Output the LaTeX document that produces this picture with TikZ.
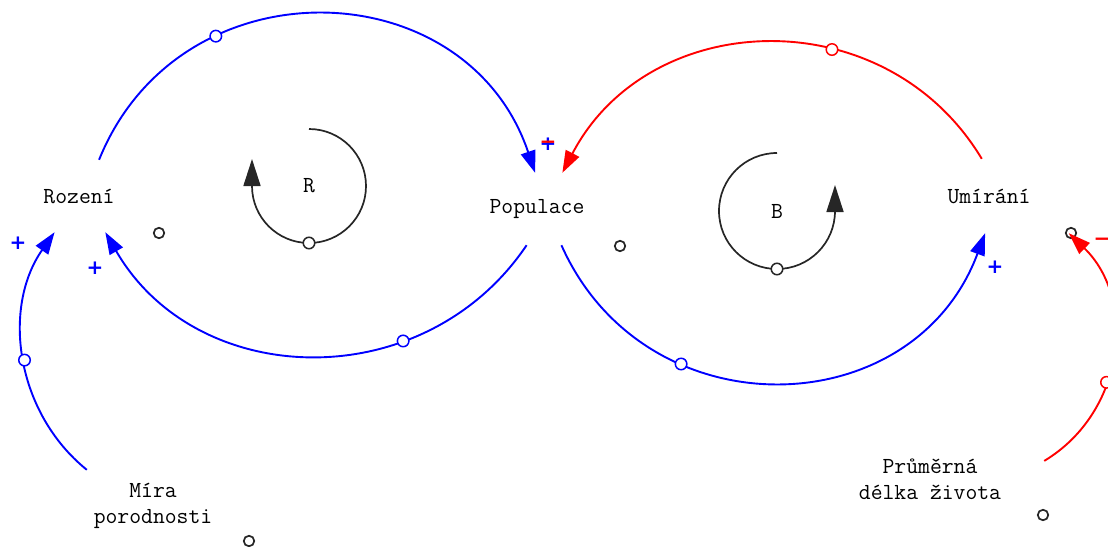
\documentclass[tikz,border=0pt]{standalone}
\usepackage{fontspec}
\newfontfamily\signfont{DejaVu Sans}
\usepackage{tikz}
\usetikzlibrary{arrows.meta}
\tikzset{
    var/.style      = {font=\ttfamily\fontsize{23}{26}\selectfont, align=center,
                       inner sep=0pt, minimum height=72pt},
    looplabel/.style = {font=\ttfamily\fontsize{23}{26}\selectfont, inner sep=0pt},
    link/.style     = {line width=1.9pt, -{Triangle[length=22pt,width=15pt]}},
    poslink/.style  = {link, blue},
    neglink/.style  = {link, red},
    handle/.style   = {circle, draw, fill=white, line width=1.5pt, inner sep=0pt,
                       minimum size=11.5pt},
    dot/.style      = {circle, draw=black!85, line width=1.7pt, inner sep=0pt,
                       minimum size=10.5pt},
    sign/.style     = {font=\signfont\bfseries\fontsize{20}{20}\selectfont, inner sep=0pt},
    loopmark/.style = {draw=black!85, line width=1.7pt, -{Triangle[length=27pt,width=17pt]}}
}

\begin{document}
\begin{tikzpicture}[x=1pt, y=1pt]
    \useasboundingbox (0,0) rectangle (1108,-546);
    \clip (0,0) rectangle (1108,-546);

    % --- Variablen ---
    \node[var, minimum width=80pt]  (rozeni)   at (79,-196)  {Rození};
    \node[var, minimum width=106pt] (populace) at (537,-209) {Populace};
    \node[var, minimum width=164pt, minimum height=74pt] (umirani) at (989,-196) {Umírání};
    \node[var, minimum width=132pt] (mira)     at (153,-506) {Míra\\porodnosti};
    \node[var, minimum width=228pt] (prumer)   at (930,-479) {Průměrná\\délka života};

    % --- lose Punkte ---
    \node[dot] (p1) at (159,-233) {};
    \node[dot] (p2) at (620,-246) {};
    \node[dot] (p3) at (1071,-233) {};
    \node[dot] (p4) at (249,-541) {};
    \node[dot] (p5) at (1043,-515) {};

    % --- Smycky R, B ---
    \node[looplabel] (loopR) at (309,-186) {R};
    \draw[loopmark] ([yshift=57pt]loopR.center)
        arc[start angle=90, end angle=-180, radius=57] -- ++(0,27);
    \node[handle, draw=black!85] (hR) at ([yshift=-57pt]loopR.center) {};

    \node[looplabel] (loopB) at (777,-211) {B};
    \draw[loopmark] ([yshift=58pt]loopB.center)
        arc[start angle=90, end angle=360, radius=58] -- ++(0,26);
    \node[handle, draw=black!85] (hB) at ([yshift=-58pt]loopB.center) {};

    % --- Vazby ---
    \draw[poslink] (rozeni.61) to[out=68, in=108.6, looseness=1.26]
        node[handle, pos=0.3] {} (populace.93);
    \draw[neglink] (umirani.101) to[out=121, in=62.4, looseness=1.14]
        node[handle, pos=0.37] {} (populace.55);
    \draw[poslink] (populace.-106) to[out=-124, in=-60, looseness=1.11]
        node[handle, pos=0.31] {} (rozeni.-54);
    \draw[poslink] (populace.-56) to[out=-66, in=-110.4, looseness=1.24]
        node[handle, pos=0.31] {} (umirani.-96);
    \draw[poslink] (mira.north west) to[out=141, in=-125, looseness=0.98]
        node[handle, pos=0.49] {} (rozeni.-124);
    \draw[neglink] (prumer.9) to[out=31, in=-44, looseness=1.06]
        node[handle, pos=0.385] {} (umirani.-25);

    % --- Polarita ---
    \node[sign, blue] (s1) at (548,-144) {+};
    \node[sign, red]  (s2) at (548,-142) {\vphantom{+}−};
    \node[sign, blue] (s3) at (95,-268)  {+};
    \node[sign, blue] (s4) at (18,-243)  {+};
    \node[sign, blue] (s5) at (995,-267) {+};
    \node[sign, red]  (s6) at (1102,-239) {\vphantom{+}−};
\end{tikzpicture}
\end{document}
